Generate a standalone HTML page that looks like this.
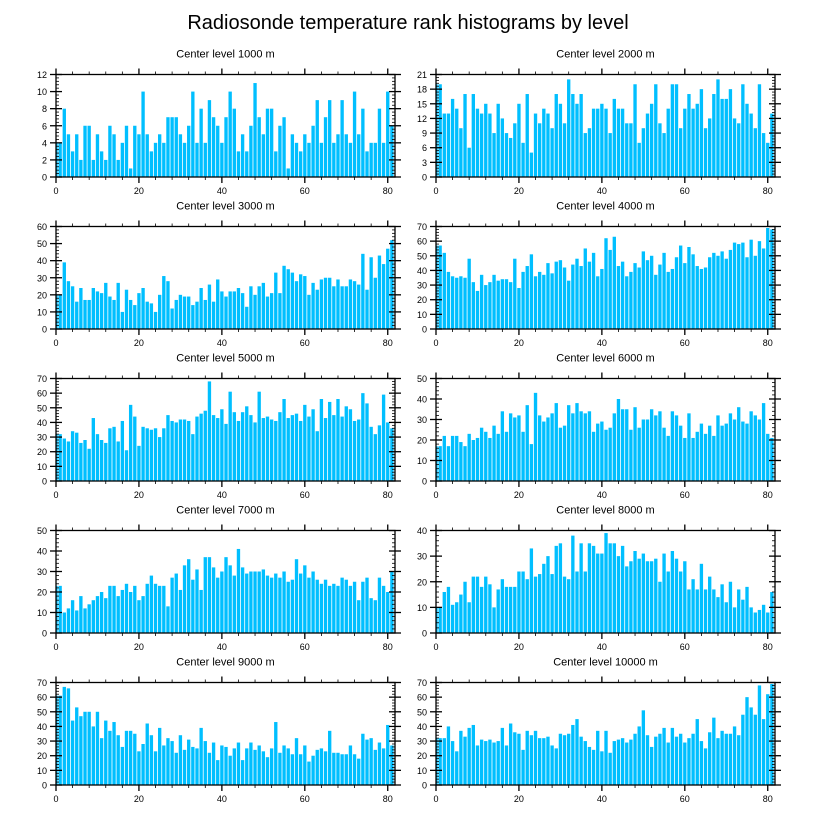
<!DOCTYPE html>
<html><head><meta charset="utf-8">
<style>
html,body{margin:0;padding:0;background:#fff;}
svg{display:block;font-family:"Liberation Sans",Arial,sans-serif;}
</style></head>
<body>
<svg id="chart" width="816" height="824" viewBox="0 0 816 824" xmlns="http://www.w3.org/2000/svg">
<text x="408" y="29" text-anchor="middle" font-size="20" fill="#000">Radiosonde temperature rank histograms by level</text>
</svg>
<script>
const levels = [1000,2000,3000,4000,5000,6000,7000,8000,9000,10000];
const yMaxes = [12,21,60,70,70,50,50,40,70,70];
const yMajor = [2,3,10,10,10,10,10,10,10,10];
const xTickLabels = [0,20,40,60,80];
const counts1000 = [4,4,8,5,3,5,2,6,6,2,5,3,2,6,5,2,4,6,1,6,5,10,5,3,4,5,4,7,7,7,5,4,6,10,4,8,4,9,7,6,4,7,10,8,3,5,3,6,11,7,5,8,8,3,6,7,1,5,4,3,5,4,6,9,4,7,9,4,5,9,5,4,10,5,8,3,4,4,8,4,10,6];
const counts2000 = [19,19,13,13,16,14,10,17,6,17,14,13,15,13,9,15,12,9,8,11,15,7,17,5,13,11,14,13,10,17,15,11,20,17,15,17,9,10,14,14,15,14,9,16,14,14,11,11,19,7,10,13,15,19,11,9,14,19,19,10,14,17,14,15,18,10,12,17,20,16,16,18,12,11,19,15,13,10,19,9,7,13];
const counts3000 = [20,20,39,28,25,16,24,17,17,24,22,21,27,19,17,27,10,23,17,14,21,24,16,15,10,20,31,28,12,17,20,19,19,14,16,24,17,26,16,29,22,19,22,22,24,21,13,25,20,25,27,19,21,33,21,37,35,33,28,32,31,20,27,23,29,30,30,25,29,25,25,29,28,26,44,23,42,30,43,38,47,52];
const counts4000 = [57,57,52,39,36,35,36,35,48,32,26,37,30,32,37,33,34,34,32,48,28,39,43,51,36,39,37,45,38,46,47,42,33,44,48,43,55,46,52,36,41,62,54,63,43,46,36,39,45,42,53,47,50,37,44,52,39,41,49,57,45,56,51,43,41,42,49,52,50,53,48,54,59,58,59,49,61,50,60,55,69,68];
const counts5000 = [32,32,29,27,34,33,26,28,22,43,32,28,26,36,37,27,41,21,52,44,24,37,36,35,36,30,36,45,41,40,42,42,41,32,44,46,48,68,45,43,49,39,61,47,41,47,51,45,40,61,43,44,42,41,47,56,43,45,46,41,52,44,49,34,56,43,54,45,56,44,51,49,41,42,60,53,37,32,38,59,40,36];
const counts6000 = [17,17,22,17,22,22,19,17,23,20,21,26,24,21,27,23,34,24,33,31,32,24,37,18,43,32,29,31,33,38,26,27,37,33,38,34,33,34,24,28,29,25,26,33,40,35,35,25,36,26,30,30,35,32,34,26,22,34,32,27,21,33,21,24,28,23,27,22,32,27,28,33,30,36,29,28,34,32,30,38,23,21];
const counts7000 = [23,23,10,12,16,11,18,12,14,16,18,20,17,23,23,18,21,24,20,23,16,18,24,28,24,23,23,13,27,29,21,33,36,26,31,21,37,37,32,27,30,37,33,28,41,32,29,30,30,30,31,28,27,29,27,30,25,26,36,29,33,27,30,26,24,26,23,24,23,27,26,23,25,16,25,27,17,16,27,23,20,30];
const counts8000 = [10,10,16,18,11,12,15,20,12,22,22,18,22,19,10,17,21,18,18,18,24,24,21,33,22,23,27,30,23,34,35,22,21,38,24,35,24,35,34,31,31,39,35,35,30,34,26,28,32,29,31,28,28,29,20,31,24,32,29,24,28,17,21,17,27,17,22,17,14,19,12,20,10,17,13,18,10,8,9,11,8,16];
const counts9000 = [61,61,67,66,44,53,47,50,50,40,50,32,44,37,43,34,26,37,37,35,23,28,42,34,23,39,27,32,30,22,34,24,31,26,25,39,30,22,29,17,27,26,20,25,29,17,25,29,24,27,23,19,25,43,22,27,25,21,32,21,27,16,20,24,25,23,37,22,22,21,21,27,21,18,35,31,32,24,29,25,41,27];
const counts10000 = [32,32,32,40,30,23,37,33,39,41,27,31,30,31,29,30,39,27,42,36,35,24,37,34,37,32,32,33,27,25,35,34,35,41,45,33,30,26,24,37,23,37,22,30,31,32,29,31,35,40,51,34,26,33,35,39,29,39,33,35,29,32,35,45,30,25,36,46,32,37,35,35,40,34,48,60,53,48,68,45,62,69];
const allCounts = [counts1000,counts2000,counts3000,counts4000,counts5000,counts6000,counts7000,counts8000,counts9000,counts10000];

const NS = "http://www.w3.org/2000/svg";
const svg = document.getElementById('chart');
function mk(tag, attrs, parent){
  const e = document.createElementNS(NS, tag);
  for (const k in attrs) e.setAttribute(k, attrs[k]);
  parent.appendChild(e);
  return e;
}
const PW = 339, PH = 102.5, XMAX = 81.75;
const colX = [56, 436];
for (let p = 0; p < 10; p++) {
  const left = colX[p % 2], top = 74.5 + 152 * Math.floor(p / 2);
  const bottom = top + PH, right = left + PW;
  const xs = v => left + v / XMAX * PW;
  const ys = v => bottom - v / yMaxes[p] * PH;
  const g = mk('g', {}, svg);
  
  
  const sub = mk('text', {x: left + PW / 2, y: top - 17, 'text-anchor': 'middle', 'font-size': '11', fill: '#000'}, g);
  
  
  sub.textContent = 'Center level ' + levels[p] + ' m';
  const cid = 'clip' + p;
  const cp = mk('clipPath', {id: cid}, g);
  mk('rect', {x: left, y: top, width: PW, height: PH}, cp);
  const bars = mk('g', {'clip-path': 'url(#' + cid + ')'}, g);
  allCounts[p].forEach((v, i) => {
    const x0 = xs(i - 0.5) + 0.4, x1 = xs(i + 0.5) - 0.4;
    const r = mk('rect', {x: x0, y: ys(v), width: x1 - x0, height: bottom - ys(v), fill: '#00bfff'}, bars);
    
    
  });
  const fr = mk('rect', {x: left, y: top, width: PW, height: PH, fill: 'none', stroke: '#000', 'stroke-width': '1.3'}, g);
  
  
  // x ticks
  for (let t = 0; t <= 80; t += 4) {
    const x = xs(t), maj = t % 20 === 0, L = maj ? 6 : 3;
    mk('line', {x1: x, x2: x, y1: bottom, y2: bottom + L, stroke: '#000', 'stroke-width': maj ? 1.3 : 0.8}, g);
    mk('line', {x1: x, x2: x, y1: top, y2: top - L, stroke: '#000', 'stroke-width': maj ? 1.3 : 0.8}, g);
  }
  xTickLabels.forEach(t => {
    const tl = mk('text', {x: xs(t), y: bottom + 17, 'text-anchor': 'middle', 'font-size': '9', fill: '#000'}, g);
    
    
    tl.textContent = t;
  });
  // y ticks
  const minor = yMajor[p] / 5;
  for (let k = 0; k * minor <= yMaxes[p] + 1e-9; k++) {
    const v = k * minor, y = ys(v), maj = k % 5 === 0;
    if (maj) {
      mk('line', {x1: left - 6, x2: left + 6, y1: y, y2: y, stroke: '#000', 'stroke-width': 1.3}, g);
      mk('line', {x1: right - 6, x2: right + 6, y1: y, y2: y, stroke: '#000', 'stroke-width': 1.3}, g);
      const yl = mk('text', {x: left - 9, y: y + 3.5, 'text-anchor': 'end', 'font-size': '9', fill: '#000'}, g);
      
      
      yl.textContent = Math.round(v);
    } else {
      mk('line', {x1: left, x2: left + 3, y1: y, y2: y, stroke: '#000', 'stroke-width': 0.8}, g);
      mk('line', {x1: right, x2: right - 3, y1: y, y2: y, stroke: '#000', 'stroke-width': 0.8}, g);
    }
  }
}
</script>
</body></html>
